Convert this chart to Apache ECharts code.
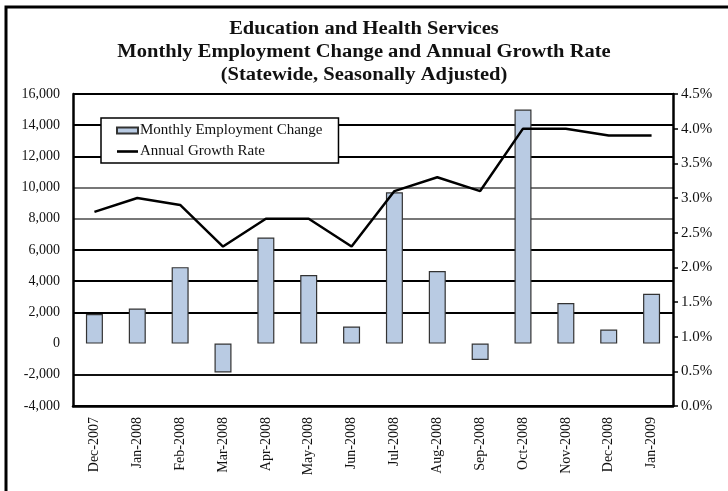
<!DOCTYPE html>
<html>
<head>
<meta charset="utf-8">
<script src="https://cdn.jsdelivr.net/npm/echarts@6/dist/echarts.min.js"></script>
<style>
html,body{margin:0;padding:0;background:#fff;}
#chart{width:728px;height:491px;}
</style>
</head>
<body>
<div id="chart"></div>
<script>
var titleLines = ['Education and Health Services', 'Monthly Employment Change and Annual Growth Rate', '(Statewide, Seasonally Adjusted)'];
var categories = ['Dec-2007','Jan-2008','Feb-2008','Mar-2008','Apr-2008','May-2008','Jun-2008','Jul-2008','Aug-2008','Sep-2008','Oct-2008','Nov-2008','Dec-2008','Jan-2009'];
var monthlyChange = [1900, 2250, 4900, -1850, 6800, 4400, 1100, 9700, 4650, -1050, 15000, 2600, 900, 3200];
var annualGrowth = [2.8, 3.0, 2.9, 2.3, 2.7, 2.7, 2.3, 3.1, 3.3, 3.1, 4.0, 4.0, 3.9, 3.9];
var seriesNames = ['Monthly Employment Change', 'Annual Growth Rate'];

var serif = '"Liberation Serif", "DejaVu Serif", serif';
var chart = echarts.init(document.getElementById('chart'), null, {renderer: 'canvas'});

var titleGraphics = titleLines.map(function (t, i) {
  return {
    type: 'text',
    x: 364,
    y: 29 + i * 23,
    scaleX: 1.14,
    style: {
      text: t,
      font: 'bold 18px ' + serif,
      fill: '#111',
      textAlign: 'center',
      textVerticalAlign: 'middle'
    }
  };
});

chart.setOption({
  animation: false,
  backgroundColor: '#fff',
  graphic: titleGraphics.concat([{
    type: 'rect',
    shape: {x: 6, y: 7, width: 740, height: 520},
    style: {fill: 'none', stroke: '#000', lineWidth: 3},
    silent: true
  }]),
  grid: {left: 73, right: 55, top: 94, bottom: 85, containLabel: false},
  legend: {
    orient: 'vertical',
    left: 101,
    top: 118,
    padding: [5, 16, 4, 15],
    itemGap: 6,
    itemWidth: 21,
    itemHeight: 6,
    backgroundColor: '#fff',
    borderColor: '#000',
    borderWidth: 1.5,
    borderRadius: 0,
    textStyle: {fontFamily: serif, fontSize: 15, color: '#111', lineHeight: 15, padding: [0, 0, 0, -3]},
    data: [
      {name: seriesNames[0], icon: 'rect'},
      {name: seriesNames[1], icon: 'path://M0,0 L21,0 L21,2.6 L0,2.6 Z', itemStyle: {color: '#000', borderWidth: 0}}
    ]
  },
  xAxis: {
    type: 'category',
    data: categories,
    boundaryGap: true,
    axisLine: {onZero: false, lineStyle: {color: '#000', width: 2.5}},
    axisTick: {show: false},
    axisLabel: {rotate: 90, margin: 11, fontFamily: serif, fontSize: 14, color: '#111'},
    splitLine: {show: false}
  },
  yAxis: [{
    type: 'value',
    min: -4000,
    max: 16000,
    interval: 2000,
    axisLine: {show: true, lineStyle: {color: '#000', width: 2.5}},
    axisTick: {show: false},
    axisLabel: {
      margin: 13, fontFamily: serif, fontSize: 14, color: '#111',
      formatter: function (v) { return v.toLocaleString('en-US'); }
    },
    splitLine: {
      show: true,
      lineStyle: {
        width: 2,
        color: ['#000', '#111', 'rgba(0,0,0,0)', '#000', '#000', '#000', '#777', '#777', '#000', '#000', '#000']
      }
    }
  }, {
    type: 'value',
    min: 0,
    max: 4.5,
    interval: 0.5,
    position: 'right',
    axisLine: {show: true, lineStyle: {color: '#000', width: 2.5}},
    axisTick: {show: true, inside: false, length: 5, lineStyle: {color: '#000', width: 1.5}},
    axisLabel: {
      margin: 8, fontFamily: serif, fontSize: 15, color: '#111',
      formatter: function (v) { return v.toFixed(1) + '%'; }
    },
    splitLine: {show: false}
  }],
  series: [{
    name: seriesNames[0],
    type: 'bar',
    data: monthlyChange,
    barWidth: 17,
    itemStyle: {color: '#B9CBE3', borderColor: '#333', borderWidth: 1.2},
    z: 2
  }, {
    name: seriesNames[1],
    type: 'line',
    yAxisIndex: 1,
    data: annualGrowth,
    symbol: 'none',
    lineStyle: {color: '#000', width: 2.5},
    itemStyle: {color: '#000'},
    z: 3
  }]
});
</script>
</body>
</html>
